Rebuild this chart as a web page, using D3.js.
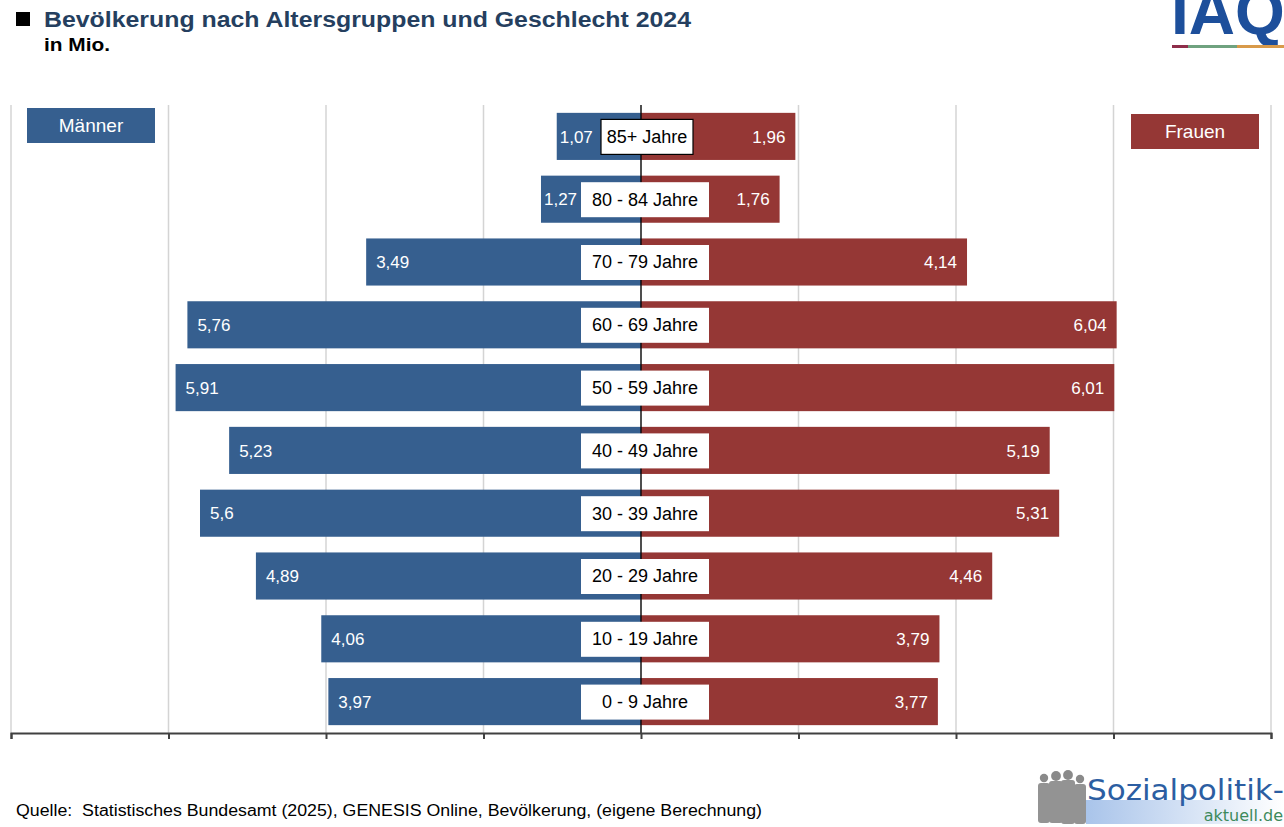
<!DOCTYPE html>
<html>
<head>
<meta charset="utf-8">
<script src="https://cdn.jsdelivr.net/npm/d3@7"></script>
<style>
  body { margin: 0; background: #fff; }
  svg { display: block; font-family: "Liberation Sans", Arial, sans-serif; }
</style>
</head>
<body>
<div id="chart"></div>
<script>
// age groups, top to bottom
const ageGroups = ["85+ Jahre", "80 - 84 Jahre", "70 - 79 Jahre", "60 - 69 Jahre", "50 - 59 Jahre",
                   "40 - 49 Jahre", "30 - 39 Jahre", "20 - 29 Jahre", "10 - 19 Jahre", "0 - 9 Jahre"];
const men   = [1.07, 1.27, 3.49, 5.76, 5.91, 5.23, 5.6, 4.89, 4.06, 3.97];
const women = [1.96, 1.76, 4.14, 6.04, 6.01, 5.19, 5.31, 4.46, 3.79, 3.77];
const xTicks = [-8, -6, -4, -2, 0, 2, 4, 6, 8];

const BLUE = "#365f8f";
const RED = "#953735";

const width = 1284, height = 827;
const svg = d3.select("#chart").append("svg")
    .attr("width", width)
    .attr("height", height);

const fmt = v => String(v).replace(".", ",");

const x = d3.scaleLinear().domain([-8, 8]).range([11, 1271]);
const y = d3.scaleBand().domain(ageGroups).range([105, 733])
    .paddingInner(0.25).paddingOuter(0.125);

// title
svg.append("rect").attr("x", 16).attr("y", 12).attr("width", 14).attr("height", 14).attr("fill", "#000");
svg.append("text")
    .attr("x", 44).attr("y", 27)
    .attr("font-size", 22).attr("font-weight", "bold").attr("fill", "#253f5f")
    .attr("textLength", 647).attr("lengthAdjust", "spacingAndGlyphs")
    .text("Bevölkerung nach Altersgruppen und Geschlecht 2024");
svg.append("text")
    .attr("x", 44).attr("y", 51)
    .attr("font-size", 18).attr("font-weight", "bold").attr("fill", "#000")
    .attr("textLength", 66).attr("lengthAdjust", "spacingAndGlyphs")
    .text("in Mio.");

// IAQ logo (cut at top edge, as in the original)
svg.append("text")
    .attr("x", 1171).attr("y", 34)
    .attr("font-size", 64).attr("font-weight", "bold").attr("fill", "#1d4f9b")
    .text("IAQ");
[["#8e2e4a", 1172, 1188], ["#6fa27f", 1188, 1237], ["#d89a4a", 1237, 1284]].forEach(s => {
    svg.append("rect").attr("x", s[1]).attr("y", 45).attr("width", s[2] - s[1]).attr("height", 3).attr("fill", s[0]);
});

// gridlines
svg.append("g").selectAll("line").data(xTicks).join("line")
    .attr("x1", d => x(d)).attr("x2", d => x(d))
    .attr("y1", 105).attr("y2", 733)
    .attr("stroke", "#d4d4d4").attr("stroke-width", 1.5);

// bars
svg.append("g").selectAll("rect").data(men).join("rect")
    .attr("x", d => x(-d)).attr("y", (d, i) => y(ageGroups[i]))
    .attr("width", d => x(0) - x(-d)).attr("height", y.bandwidth())
    .attr("fill", BLUE);
svg.append("g").selectAll("rect").data(women).join("rect")
    .attr("x", x(0)).attr("y", (d, i) => y(ageGroups[i]))
    .attr("width", d => x(d) - x(0)).attr("height", y.bandwidth())
    .attr("fill", RED);

// value labels
svg.append("g").selectAll("text").data(men).join("text")
    .attr("x", d => x(-d) + (d < 2 ? 3 : 10))
    .attr("y", (d, i) => y(ageGroups[i]) + y.bandwidth() / 2)
    .attr("dy", "0.36em")
    .attr("font-size", 17).attr("fill", "#fff")
    .text(fmt);
svg.append("g").selectAll("text").data(women).join("text")
    .attr("x", d => x(d) - 10)
    .attr("y", (d, i) => y(ageGroups[i]) + y.bandwidth() / 2)
    .attr("dy", "0.36em")
    .attr("text-anchor", "end")
    .attr("font-size", 17).attr("fill", "#fff")
    .text(fmt);

// center line
svg.append("line")
    .attr("x1", x(0)).attr("x2", x(0)).attr("y1", 105).attr("y2", 733)
    .attr("stroke", "#000").attr("stroke-width", 1.3);

// category labels in white boxes
const cat = svg.append("g").selectAll("g").data(ageGroups).join("g")
    .attr("transform", d => `translate(${x(0) + (d === "85+ Jahre" ? 6 : 4)},${y(d) + y.bandwidth() / 2})`);
cat.append("rect")
    .attr("x", d => d === "85+ Jahre" ? -46 : -64)
    .attr("y", -17)
    .attr("width", d => d === "85+ Jahre" ? 92 : 128)
    .attr("height", 35)
    .attr("fill", "#fff")
    .attr("stroke", d => d === "85+ Jahre" ? "#000" : "none")
    .attr("stroke-width", 1.2);
cat.append("text")
    .attr("text-anchor", "middle").attr("dy", "0.36em")
    .attr("font-size", 18).attr("fill", "#000")
    .text(d => d);

// axis
const axis = svg.append("g").attr("transform", "translate(0,733)")
    .call(d3.axisBottom(x).tickValues(xTicks).tickSize(6).tickFormat(""));
axis.select(".domain").attr("stroke", "#404040").attr("stroke-width", 2);
axis.selectAll(".tick line").attr("stroke", "#404040").attr("stroke-width", 2);

// legend boxes
const legend = [["Männer", BLUE, 27, 108], ["Frauen", RED, 1131, 114]];
legend.forEach(l => {
    svg.append("rect").attr("x", l[2]).attr("y", l[3]).attr("width", 128).attr("height", 35).attr("fill", l[1]);
    svg.append("text").attr("x", l[2] + 64).attr("y", l[3] + 17.5).attr("dy", "0.36em")
        .attr("text-anchor", "middle").attr("font-size", 19).attr("fill", "#fff").text(l[0]);
});

// source
svg.append("text")
    .attr("x", 16).attr("y", 816)
    .attr("font-size", 16).attr("fill", "#000")
    .attr("xml:space", "preserve")
    .attr("textLength", 746).attr("lengthAdjust", "spacingAndGlyphs")
    .text("Quelle:  Statistisches Bundesamt (2025), GENESIS Online, Bevölkerung, (eigene Berechnung)");

// sozialpolitik-aktuell logo
const logo = svg.append("g");
const grad = svg.append("defs").append("linearGradient").attr("id", "lg");
grad.append("stop").attr("offset", "0%").attr("stop-color", "#a9c4ea");
grad.append("stop").attr("offset", "100%").attr("stop-color", "#ffffff");
logo.append("rect").attr("x", 1086).attr("y", 800).attr("width", 198).attr("height", 24).attr("fill", "url(#lg)");
[[1044, 778, 6, 0.95], [1056, 776, 7, 1], [1068, 775, 7, 1.05], [1080, 779, 6, 0.95]].forEach(p => {
    logo.append("circle").attr("cx", p[0]).attr("cy", p[1]).attr("r", p[2] * 0.7).attr("fill", "#8a8a8a");
    logo.append("rect").attr("x", p[0] - p[2]).attr("y", p[1] + 5).attr("width", p[2] * 2)
        .attr("height", 42 * p[3]).attr("rx", 3).attr("fill", "#939393");
});
logo.append("text").attr("x", 1087).attr("y", 800)
    .attr("font-family", "'DejaVu Sans', sans-serif").attr("font-size", 28).attr("fill", "#2c5ea2")
    .attr("textLength", 197).attr("lengthAdjust", "spacingAndGlyphs")
    .text("Sozialpolitik-");
logo.append("text").attr("x", 1283).attr("y", 821).attr("text-anchor", "end")
    .attr("font-family", "'DejaVu Sans', sans-serif").attr("font-size", 16).attr("fill", "#3d8a5c")
    .text("aktuell.de");
</script>
</body>
</html>
